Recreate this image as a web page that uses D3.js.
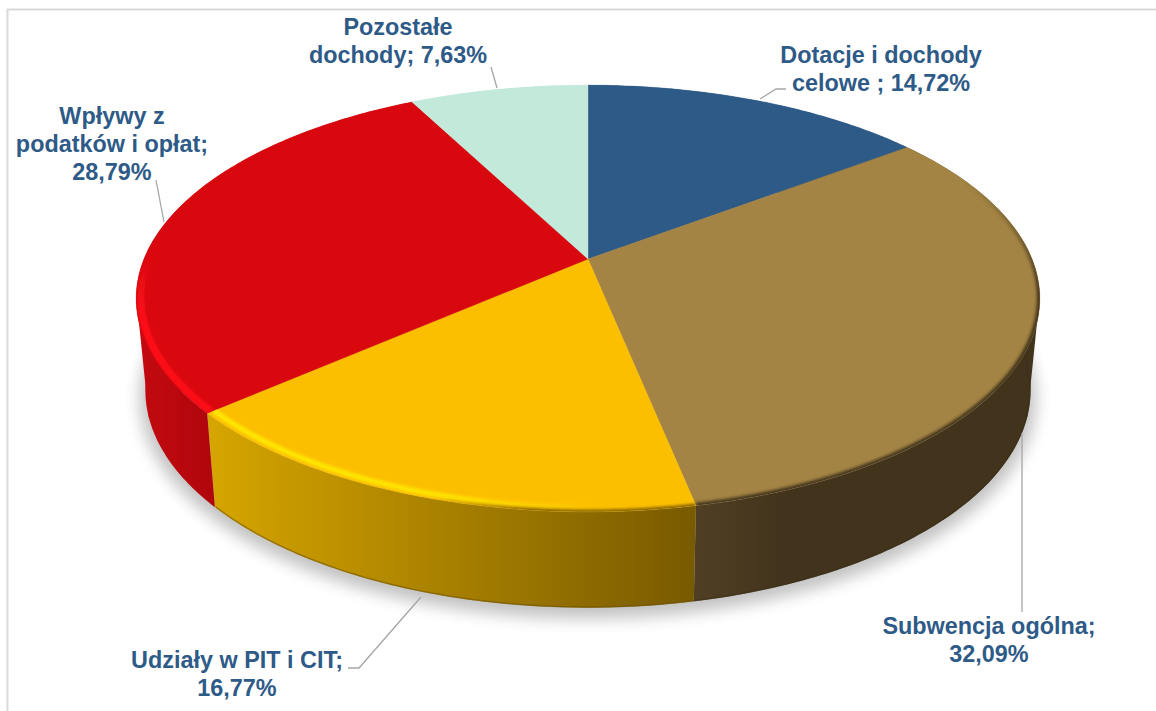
<!DOCTYPE html>
<html lang="pl">
<head>
  <meta charset="UTF-8">
  <title>Dochody</title>
  <script src="https://cdn.jsdelivr.net/npm/d3@7"></script>
  <style>
    html, body { margin: 0; padding: 0; background: #fff; overflow: hidden; }
    text { font-family: "Liberation Sans", Arial, sans-serif; font-weight: 700; }
  </style>
</head>
<body>
  <script>
    // data, clockwise from 12 o'clock
    const categories = ['Dotacje i dochody\ncelowe ', 'Subwencja ogólna', 'Udziały w PIT i CIT', 'Wpływy z\npodatków i opłat', 'Pozostałe\ndochody'];
    const values = [14.72, 32.09, 16.77, 28.79, 7.63];
    const valueBreaks = [' ', '\n', '\n', '\n', ' '];

    // styles
    const topColors = ['#2e5a87', '#a38444', '#fcbf00', '#d9080f', '#c3e9db'];
    const sideStops = [
      ['#2e5a87', '#2e5a87'],
      ['#503f24', '#42341c'],
      ['#d6a500', '#785a00'],
      ['#c40a10', '#ae060c'],
      ['#c3e9db', '#c3e9db']
    ];

    // label placing: centre x, first baseline, leader line
    const labelX = [881, 989, 237, 112, 398];
    const labelY = [63, 634, 668, 124, 35];
    const leaders = [
      [[760, 99], [776, 89], [786, 89]],
      [[1022, 433], [1022, 612]],
      [[421, 597], [359, 668], [348, 668]],
      [[156, 180], [164, 222]],
      [[491, 67], [497, 88]]
    ];

    const width = 1156, height = 711;
    const rad = d => d * Math.PI / 180;
    const svg = d3.select('body').append('svg')
      .attr('width', width).attr('height', height);
    const defs = svg.append('defs');

    // flat disc in perspective: the pie centre is above the middle of the ellipse
    const persp = 0.185;
    function project(disc, a, r) {
      const u = r * Math.sin(a), v = -r * Math.cos(a), w = 1 - persp * v;
      return [disc.cx + disc.rx * u / w, disc.cy + disc.ry * v / w];
    }
    const topDisc = {cx: 588, cy: 259, rx: 444, ry: 206};
    const baseDisc = {cx: 588, cy: 350, rx: 435, ry: 210};

    const line = d3.line();
    function rimPoints(disc, a0, a1, r) {
      const n = Math.max(2, Math.ceil((a1 - a0) * 80));
      return d3.range(n + 1).map(i => project(disc, a0 + (a1 - a0) * i / n, r));
    }

    const slices = d3.pie().value(d => d).sort(null)(values);

    // blur filters
    [['blur8', 8], ['blur2', 1.8], ['blur1', 1]].forEach(([id, s]) => {
      defs.append('filter').attr('id', id)
        .attr('filterUnits', 'userSpaceOnUse')
        .attr('x', 0).attr('y', 0).attr('width', width).attr('height', height)
        .append('feGaussianBlur').attr('stdDeviation', s);
    });

    // side gradients
    const sideX = [[136, 1040], [694, 780], [210, 694], [136, 216], [136, 1040]];
    slices.forEach((s, i) => {
      const g = defs.append('linearGradient').attr('id', 'side' + i)
        .attr('gradientUnits', 'userSpaceOnUse')
        .attr('x1', sideX[i][0]).attr('x2', sideX[i][1]).attr('y1', 0).attr('y2', 0);
      g.append('stop').attr('offset', 0).attr('stop-color', sideStops[i][0]);
      g.append('stop').attr('offset', 1).attr('stop-color', sideStops[i][1]);
    });

    // highlight on the rim fades toward the front of the pie
    function glow(id, color, x1, y1, x2, y2, stops) {
      const g = defs.append('linearGradient').attr('id', id)
        .attr('gradientUnits', 'userSpaceOnUse')
        .attr('x1', x1).attr('y1', y1).attr('x2', x2).attr('y2', y2);
      stops.forEach(([o, a]) => g.append('stop').attr('offset', o).attr('stop-color', color).attr('stop-opacity', a));
    }
    glow('rim2', '#ffea00', 210, 0, 600, 0, [[0, 1], [0.6, 0.9], [1, 0]]);
    glow('rim3', '#ff1018', 0, 420, 0, 250, [[0, 1], [0.6, 1], [1, 0]]);
    glow('dark2', '#7a5c00', 430, 0, 694, 0, [[0, 0], [0.4, 1], [1, 1]]);
    glow('dark1', '#42341c', 0, 180, 0, 300, [[0, 0], [1, 1]]);

    // frame
    svg.append('path')
      .attr('d', line([[7.5, height], [7.5, 9.5], [width, 9.5]]))
      .attr('fill', 'none').attr('stroke', '#d9d9d9').attr('stroke-width', 2);

    // shadow under the pie
    svg.append('path')
      .attr('d', line(rimPoints(baseDisc, 0, 2 * Math.PI, 1.012)) + 'Z')
      .attr('transform', 'translate(0,7)')
      .attr('fill', '#000').attr('opacity', 0.24).attr('filter', 'url(#blur8)');

    // sides
    svg.append('g').selectAll('path').data(slices).join('path')
      .attr('d', d => {
        const up = rimPoints(topDisc, d.startAngle, d.endAngle, 1);
        const down = rimPoints(baseDisc, d.startAngle, d.endAngle, 1).reverse();
        return line(up.concat(down)) + 'Z';
      })
      .attr('fill', (d, i) => `url(#side${i})`);

    // straight silhouette between the widest point of the top and the base
    const tangents = [[1, 100, 107.5, 125], [3, 260, 252.5, 235]];
    tangents.forEach(([i, aTop, aBase, aIn]) => {
      svg.append('path')
        .attr('d', line([
          project(topDisc, rad(aTop), 1),
          project(baseDisc, rad(aBase), 1),
          project(baseDisc, rad(aIn), 1),
          project(topDisc, rad(aIn), 1)
        ]) + 'Z')
        .attr('fill', `url(#side${i})`);
    });

    // darker line along the foot of the yellow and brown sides
    [1, 2].forEach(i => {
      svg.append('path')
        .attr('d', line(rimPoints(baseDisc, slices[i].startAngle, slices[i].endAngle, 0.998)))
        .attr('fill', 'none').attr('stroke', i === 2 ? '#6a4f00' : '#3a2d17')
        .attr('stroke-width', 1.5).attr('opacity', 0.5);
    });

    // top faces
    const facePath = d => line([[topDisc.cx, topDisc.cy]].concat(rimPoints(topDisc, d.startAngle, d.endAngle, 1))) + 'Z';
    slices.forEach((d, i) => {
      defs.append('clipPath').attr('id', 'face' + i).append('path').attr('d', facePath(d));
    });
    svg.append('g').selectAll('path').data(slices).join('path')
      .attr('d', facePath)
      .attr('fill', (d, i) => topColors[i])
      .attr('stroke', (d, i) => topColors[i]).attr('stroke-width', 0.4);

    // bevel on the rim of the top face
    function rimStroke(i, a0, a1, r, color, w, blur) {
      svg.append('g').attr('clip-path', `url(#face${i})`).append('path')
        .attr('d', line(rimPoints(topDisc, a0, a1, r)))
        .attr('fill', 'none').attr('stroke', color).attr('stroke-width', w)
        .attr('stroke-linecap', 'butt').attr('filter', `url(#${blur})`);
    }
    const s1 = slices[1], s2 = slices[2], s3 = slices[3];
    rimStroke(1, rad(60), s1.endAngle, 0.999, 'url(#dark1)', 5, 'blur2');
    rimStroke(2, s2.startAngle, s2.endAngle, 0.985, 'url(#rim2)', 5, 'blur2');
    rimStroke(2, s2.startAngle, s2.endAngle, 1, 'url(#dark2)', 4, 'blur2');
    rimStroke(3, s3.startAngle, rad(285), 0.99, 'url(#rim3)', 7, 'blur2');

    // leader lines
    svg.append('g').selectAll('path').data(leaders).join('path')
      .attr('d', d => line(d))
      .attr('fill', 'none').attr('stroke', '#a6a6a6').attr('stroke-width', 1.3);

    // labels
    const fmt = d3.format('.2f');
    const labelLines = categories.map((c, i) =>
      `${c};${valueBreaks[i]}${fmt(values[i]).replace('.', ',')}%`.split('\n'));
    const labels = svg.append('g').selectAll('text').data(labelLines).join('text')
      .attr('text-anchor', 'middle')
      .attr('font-size', 23.4)
      .attr('fill', '#2e5a87')
      .attr('x', (d, i) => labelX[i])
      .attr('y', (d, i) => labelY[i]);
    labels.selectAll('tspan').data((d, i) => d.map(t => ({t, x: labelX[i]}))).join('tspan')
      .attr('x', d => d.x)
      .attr('dy', (d, i) => i ? 28 : 0)
      .text(d => d.t);
  </script>
</body>
</html>
